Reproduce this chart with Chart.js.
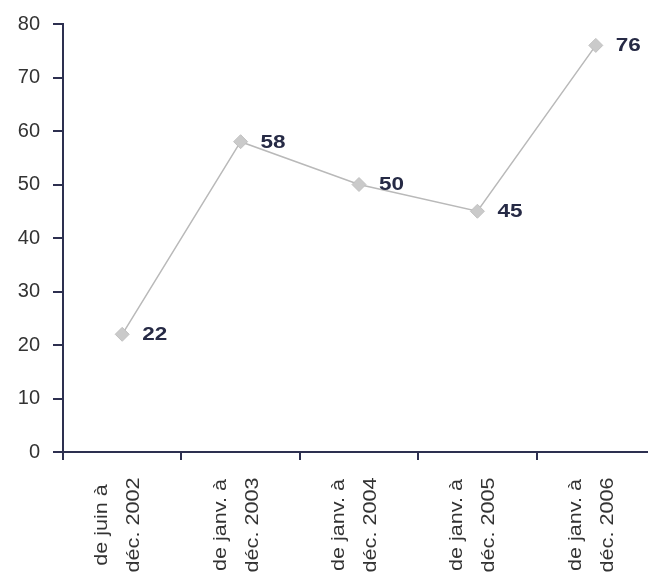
<!DOCTYPE html>
<html>
<head>
<meta charset="utf-8">
<script src="https://cdn.jsdelivr.net/npm/chart.js@4"></script>
<style>
  html, body { margin: 0; padding: 0; background: #fff; overflow: hidden; }
  #wrap { width: 663px; height: 574px; }
</style>
</head>
<body>
<div id="wrap"><canvas id="chart" width="663" height="574"></canvas></div>
<script>
// ---- data ----
const periods = [
    ["de juin à", "déc. 2002"],
    ["de janv. à", "déc. 2003"],
    ["de janv. à", "déc. 2004"],
    ["de janv. à", "déc. 2005"],
    ["de janv. à", "déc. 2006"]
];
const values = [22, 58, 50, 45, 76];
const yTicks = [0, 10, 20, 30, 40, 50, 60, 70, 80];

const axisColor = "#2d3050";
const fontFamily = "Arial, 'Liberation Sans', sans-serif";

// ---- value labels next to each point (text a bit stretched like the original) ----
const valueLabels = {
    id: "valueLabels",
    afterDatasetsDraw(chart) {
        const ctx = chart.ctx;
        const meta = chart.getDatasetMeta(0);
        ctx.save();
        ctx.font = "bold 18px " + fontFamily;
        ctx.fillStyle = "#262a45";
        ctx.textAlign = "left";
        ctx.textBaseline = "middle";
        meta.data.forEach((pt, i) => {
            ctx.save();
            ctx.translate(pt.x + 20, pt.y + 1);
            ctx.scale(1.25, 1);
            ctx.fillText(values[i], 0, 0);
            ctx.restore();
        });
        ctx.restore();
    }
};

// ---- rotated, centred category labels under the x axis ----
const lineOffsets = [-20, 12];
const xLabels = {
    id: "xLabels",
    afterDraw(chart) {
        const ctx = chart.ctx;
        const scale = chart.scales.x;
        ctx.save();
        ctx.font = "18px " + fontFamily;
        ctx.fillStyle = "#333";
        ctx.textAlign = "center";
        ctx.textBaseline = "middle";
        periods.forEach((lines, i) => {
            const x = scale.getPixelForTick(i);
            lines.forEach((txt, j) => {
                ctx.save();
                ctx.translate(x + lineOffsets[j], scale.top + 73);
                ctx.rotate(-Math.PI / 2);
                ctx.scale(1.2, 1);
                ctx.fillText(txt, 0, 0);
                ctx.restore();
            });
        });
        ctx.restore();
    }
};

const ctx = document.getElementById("chart");
new Chart(ctx, {
    type: "line",
    data: {
        labels: periods,
        datasets: [{
            data: values,
            borderColor: "#b9b9b9",
            borderWidth: 1.5,
            pointStyle: "rectRot",
            pointRadius: 7,
            pointBackgroundColor: "#cacaca",
            pointBorderColor: "#c0c0c0",
            pointBorderWidth: 1,
            tension: 0
        }]
    },
    options: {
        responsive: false,
        animation: false,
        layout: { padding: { top: 24, right: 0, left: 0, bottom: 0 } },
        plugins: {
            legend: { display: false },
            tooltip: { enabled: false }
        },
        scales: {
            x: {
                offset: true,
                grid: {
                    offset: true,
                    drawOnChartArea: false,
                    drawTicks: true,
                    tickLength: 8,
                    color: axisColor,
                    lineWidth: 2
                },
                border: { color: axisColor, width: 2 },
                ticks: { display: false },
                afterFit(scale) {
                    scale.height = 122;
                    scale.paddingLeft = 0;
                    scale.paddingRight = 0;
                }
            },
            y: {
                min: 0,
                max: 80,
                afterBuildTicks(scale) { scale.ticks = yTicks.map(v => ({ value: v })); },
                grid: {
                    drawOnChartArea: false,
                    drawTicks: true,
                    tickLength: 10,
                    color: axisColor,
                    lineWidth: 2
                },
                border: { color: axisColor, width: 2 },
                ticks: {
                    padding: 13,
                    color: "#333",
                    font: { family: fontFamily, size: 20 }
                },
                afterFit(scale) {
                    scale.width = 63;
                    scale.paddingTop = 0;
                    scale.paddingBottom = 0;
                }
            }
        }
    },
    plugins: [valueLabels, xLabels]
});
</script>
</body>
</html>
